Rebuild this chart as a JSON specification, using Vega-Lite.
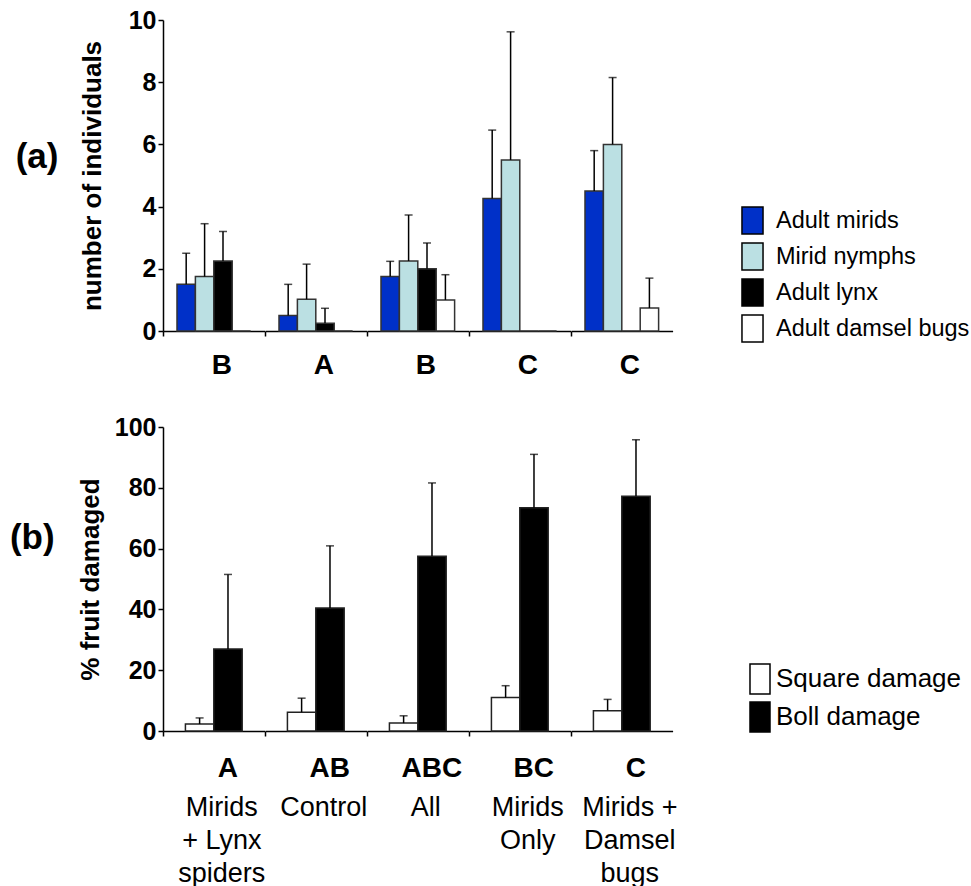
{
  "$schema": "https://vega.github.io/schema/vega-lite/v6.json",
  "background": "white",
  "padding": {"left": 9, "top": 8, "right": 0, "bottom": 0},
  "spacing": 34,
  "config": {
    "view": {"stroke": null},
    "font": "Liberation Sans",
    "axis": {
      "labelFont": "Liberation Sans", "titleFont": "Liberation Sans",
      "labelColor": "black", "titleColor": "black",
      "domainColor": "black", "tickColor": "black",
      "domainWidth": 1.5, "tickWidth": 1.5, "tickSize": 5, "grid": false
    },
    "legend": {"labelFont": "Liberation Sans", "labelColor": "black", "labelLimit": 0},
    "title": {"font": "Liberation Sans", "color": "black"}
  },
  "datasets": {
    "counts": [
      {"treat": "Mirids + Lynx spiders", "letter": "B", "series": "Adult mirids", "mean": 1.5, "hi": 2.5},
      {"treat": "Mirids + Lynx spiders", "letter": "B", "series": "Mirid nymphs", "mean": 1.75, "hi": 3.45},
      {"treat": "Mirids + Lynx spiders", "letter": "B", "series": "Adult lynx", "mean": 2.25, "hi": 3.2},
      {"treat": "Mirids + Lynx spiders", "letter": "B", "series": "Adult damsel bugs", "mean": 0, "hi": 0},
      {"treat": "Control", "letter": "A", "series": "Adult mirids", "mean": 0.5, "hi": 1.5},
      {"treat": "Control", "letter": "A", "series": "Mirid nymphs", "mean": 1.02, "hi": 2.15},
      {"treat": "Control", "letter": "A", "series": "Adult lynx", "mean": 0.25, "hi": 0.73},
      {"treat": "Control", "letter": "A", "series": "Adult damsel bugs", "mean": 0, "hi": 0},
      {"treat": "All", "letter": "B", "series": "Adult mirids", "mean": 1.75, "hi": 2.24},
      {"treat": "All", "letter": "B", "series": "Mirid nymphs", "mean": 2.25, "hi": 3.73},
      {"treat": "All", "letter": "B", "series": "Adult lynx", "mean": 2.0, "hi": 2.83},
      {"treat": "All", "letter": "B", "series": "Adult damsel bugs", "mean": 1.0, "hi": 1.81},
      {"treat": "Mirids Only", "letter": "C", "series": "Adult mirids", "mean": 4.26, "hi": 6.46},
      {"treat": "Mirids Only", "letter": "C", "series": "Mirid nymphs", "mean": 5.5, "hi": 9.62},
      {"treat": "Mirids Only", "letter": "C", "series": "Adult lynx", "mean": 0, "hi": 0},
      {"treat": "Mirids Only", "letter": "C", "series": "Adult damsel bugs", "mean": 0, "hi": 0},
      {"treat": "Mirids + Damsel bugs", "letter": "C", "series": "Adult mirids", "mean": 4.5, "hi": 5.8},
      {"treat": "Mirids + Damsel bugs", "letter": "C", "series": "Mirid nymphs", "mean": 6.0, "hi": 8.15},
      {"treat": "Mirids + Damsel bugs", "letter": "C", "series": "Adult lynx", "mean": 0, "hi": 0},
      {"treat": "Mirids + Damsel bugs", "letter": "C", "series": "Adult damsel bugs", "mean": 0.74, "hi": 1.7}
    ],
    "damage": [
      {"treat": "Mirids + Lynx spiders", "letter": "A", "label": "Mirids\n+ Lynx\nspiders", "series": "Square damage", "mean": 2.3, "hi": 4.3},
      {"treat": "Mirids + Lynx spiders", "letter": "A", "label": "Mirids\n+ Lynx\nspiders", "series": "Boll damage", "mean": 27, "hi": 51.5},
      {"treat": "Control", "letter": "AB", "label": "Control", "series": "Square damage", "mean": 6.2, "hi": 10.8},
      {"treat": "Control", "letter": "AB", "label": "Control", "series": "Boll damage", "mean": 40.5, "hi": 60.9},
      {"treat": "All", "letter": "ABC", "label": "All", "series": "Square damage", "mean": 2.6, "hi": 5.0},
      {"treat": "All", "letter": "ABC", "label": "All", "series": "Boll damage", "mean": 57.5, "hi": 81.6},
      {"treat": "Mirids Only", "letter": "BC", "label": "Mirids\nOnly", "series": "Square damage", "mean": 11.0, "hi": 14.9},
      {"treat": "Mirids Only", "letter": "BC", "label": "Mirids\nOnly", "series": "Boll damage", "mean": 73.4, "hi": 91.0},
      {"treat": "Mirids + Damsel bugs", "letter": "C", "label": "Mirids +\nDamsel\nbugs", "series": "Square damage", "mean": 6.7, "hi": 10.4},
      {"treat": "Mirids + Damsel bugs", "letter": "C", "label": "Mirids +\nDamsel\nbugs", "series": "Boll damage", "mean": 77.2, "hi": 95.8}
    ]
  },
  "resolve": {"scale": {"color": "independent", "x": "independent", "y": "independent"}},
  "vconcat": [
    {
      "data": {"name": "counts"},
      "title": {"text": "(a)", "orient": "left", "angle": 0, "align": "right", "baseline": "middle", "anchor": "middle", "fontSize": 35, "fontWeight": "bold", "offset": -22, "dy": -37},
      "bounds": "flush",
      "spacing": 0,
      "facet": {"column": {"field": "treat", "type": "nominal", "sort": ["Mirids + Lynx spiders", "Control", "All", "Mirids Only", "Mirids + Damsel bugs"], "header": {"labels": false, "title": null}}},
      "spec": {
        "width": 101.6,
        "height": 311,
        "encoding": {
          "x": {"field": "series", "type": "nominal", "sort": ["Adult mirids", "Mirid nymphs", "Adult lynx", "Adult damsel bugs"], "scale": {"type": "band", "paddingInner": 0, "paddingOuter": 0.76}, "axis": {"title": null, "labels": false, "ticks": true, "domain": true, "values": ["Adult mirids"], "bandPosition": 0, "tickOffset": -14}}
        },
        "layer": [
          {
            "mark": {"type": "bar", "stroke": "#333333", "strokeWidth": 1.5},
            "encoding": {
              "y": {
                "field": "mean", "type": "quantitative",
                "scale": {"domain": [0, 10], "nice": false},
                "axis": {"title": "number of individuals", "titleFontSize": 26, "titleFontWeight": "bold", "titlePadding": 23, "values": [0, 2, 4, 6, 8, 10], "labelFontSize": 25, "labelFontWeight": "bold", "labelPadding": 2}
              },
              "color": {
                "field": "series", "type": "nominal",
                "scale": {"domain": ["Adult mirids", "Mirid nymphs", "Adult lynx", "Adult damsel bugs"], "range": ["#0030C8", "#BBE0E3", "#000000", "#FFFFFF"]},
                "legend": {"title": null, "orient": "none", "legendX": 575, "legendY": 186, "padding": 0, "symbolType": "M-0.78,-1H0.78V1H-0.78Z", "symbolSize": 729, "symbolStrokeColor": "black", "symbolStrokeWidth": 1.5, "labelFontSize": 23.5, "labelOffset": 9, "rowPadding": 3}
              }
            }
          },
          {
            "transform": [{"filter": "datum.hi > datum.mean"}],
            "mark": {"type": "rule", "color": "black", "strokeWidth": 1.5},
            "encoding": {
              "y": {"field": "mean", "type": "quantitative"},
              "y2": {"field": "hi"}
            }
          },
          {
            "transform": [{"filter": "datum.hi > datum.mean"}],
            "mark": {"type": "tick", "color": "black", "size": 8, "thickness": 1.5},
            "encoding": {
              "y": {"field": "hi", "type": "quantitative"}
            }
          },
          {
            "transform": [{"filter": "datum.series == 'Mirid nymphs'"}],
            "mark": {"type": "text", "baseline": "middle", "align": "center", "fontSize": 28, "fontWeight": "bold", "dx": 8, "color": "black"},
            "encoding": {
              "x": {"field": "series", "type": "nominal", "bandPosition": 1},
              "y": {"datum": -1.13, "type": "quantitative"},
              "text": {"field": "letter", "type": "nominal"}
            }
          }
        ]
      }
    },
    {
      "data": {"name": "damage"},
      "title": {"text": "(b)", "orient": "left", "angle": 0, "align": "right", "baseline": "middle", "anchor": "middle", "fontSize": 35, "fontWeight": "bold", "offset": -22, "dy": -113},
      "bounds": "flush",
      "spacing": 0,
      "facet": {"column": {"field": "treat", "type": "nominal", "sort": ["Mirids + Lynx spiders", "Control", "All", "Mirids Only", "Mirids + Damsel bugs"], "header": {"labels": false, "title": null}}},
      "spec": {
        "width": 101.6,
        "height": 304,
        "encoding": {
          "x": {"field": "series", "type": "nominal", "sort": ["Square damage", "Boll damage"], "scale": {"type": "band", "paddingInner": 0, "paddingOuter": 0.79}, "axis": {"title": null, "labels": false, "ticks": true, "domain": true, "values": ["Square damage"], "bandPosition": 0, "tickOffset": -22.4}}
        },
        "layer": [
          {
            "mark": {"type": "bar", "stroke": "#222222", "strokeWidth": 1.5},
            "encoding": {
              "y": {
                "field": "mean", "type": "quantitative",
                "scale": {"domain": [0, 100], "nice": false},
                "axis": {"title": "% fruit damaged", "titleFontSize": 26, "titleFontWeight": "bold", "titlePadding": 11, "values": [0, 20, 40, 60, 80, 100], "labelFontSize": 25, "labelFontWeight": "bold", "labelPadding": 2}
              },
              "color": {
                "field": "series", "type": "nominal",
                "scale": {"domain": ["Square damage", "Boll damage"], "range": ["#FFFFFF", "#000000"]},
                "legend": {"title": null, "orient": "none", "legendX": 581, "legendY": 236, "padding": 0, "symbolType": "M-0.667,-1H0.667V1H-0.667Z", "symbolSize": 900, "symbolStrokeColor": "black", "symbolStrokeWidth": 1.5, "labelFontSize": 26, "labelOffset": 0, "rowPadding": 2}
              }
            }
          },
          {
            "mark": {"type": "rule", "color": "black", "strokeWidth": 1.5},
            "encoding": {
              "y": {"field": "mean", "type": "quantitative"},
              "y2": {"field": "hi"}
            }
          },
          {
            "mark": {"type": "tick", "color": "black", "size": 8, "thickness": 1.5},
            "encoding": {
              "y": {"field": "hi", "type": "quantitative"}
            }
          },
          {
            "transform": [{"filter": "datum.series == 'Square damage'"}],
            "mark": {"type": "text", "baseline": "middle", "align": "center", "fontSize": 28, "fontWeight": "bold", "dx": 14, "color": "black"},
            "encoding": {
              "x": {"field": "series", "type": "nominal", "bandPosition": 1},
              "y": {"datum": -12.6, "type": "quantitative"},
              "text": {"field": "letter", "type": "nominal"}
            }
          },
          {
            "transform": [{"filter": "datum.series == 'Square damage'"}],
            "mark": {"type": "text", "baseline": "top", "align": "center", "lineBreak": "\n", "fontSize": 27, "lineHeight": 33, "dx": 8, "color": "black"},
            "encoding": {
              "x": {"field": "series", "type": "nominal", "bandPosition": 1},
              "y": {"datum": -21, "type": "quantitative"},
              "text": {"field": "label", "type": "nominal"}
            }
          }
        ]
      }
    }
  ]
}
